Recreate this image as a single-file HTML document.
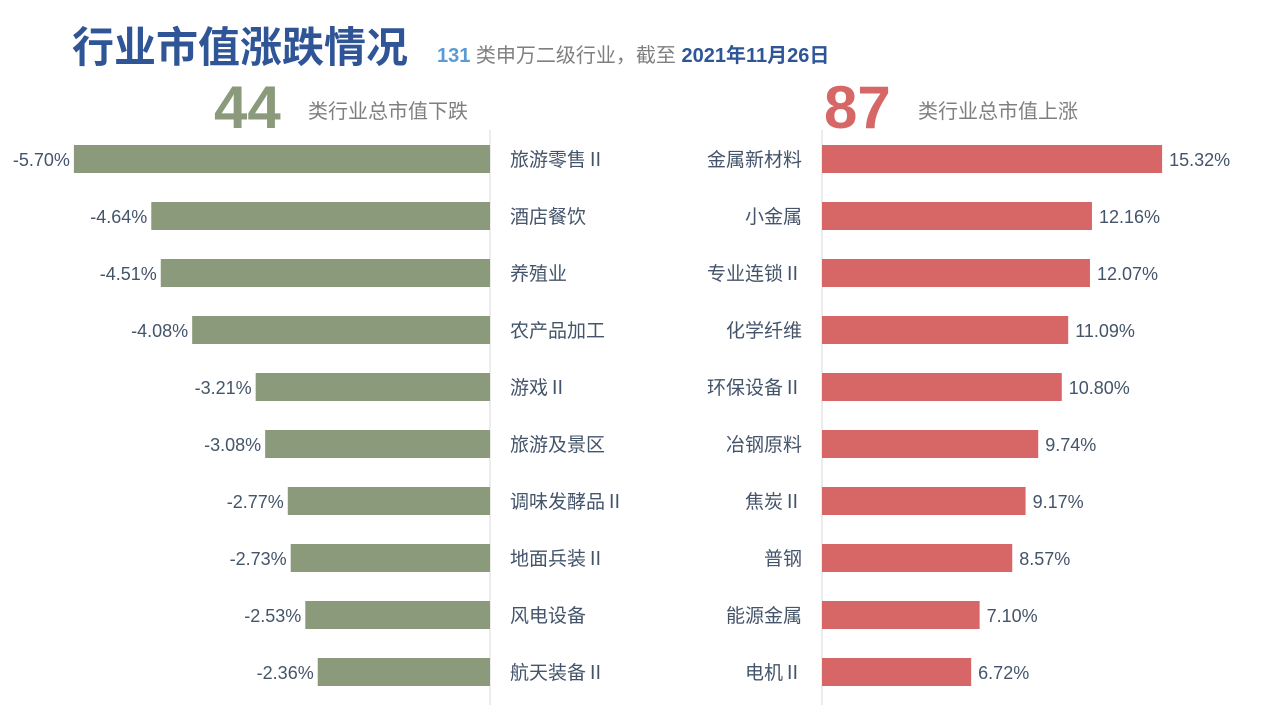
<!DOCTYPE html>
<html><head><meta charset="utf-8"><style>
body{margin:0;width:1280px;height:720px;background:#fff;overflow:hidden;font-family:"Liberation Sans","Noto Sans CJK SC",sans-serif;}
#c{position:absolute;left:0;top:0}
</style></head><body>
<svg id="c" width="1280" height="720">
<text x="72" y="62" font-size="42" font-weight="bold" fill="#2F5597" font-family="Noto Sans CJK SC,sans-serif">行业市值涨跌情况</text>
<text x="437" y="62" font-size="20" fill="#7F7F7F" font-family="Liberation Sans,Noto Sans CJK SC,sans-serif"><tspan fill="#5B9BD5" font-weight="bold">131</tspan> 类申万二级行业，截至 <tspan fill="#2F5597" font-weight="bold">2021年11月26日</tspan></text>
<text x="214" y="128" font-size="60" font-weight="bold" fill="#8A9A7B">44</text>
<text x="308" y="118" font-size="20" fill="#7F7F7F" font-family="Noto Sans CJK SC,sans-serif">类行业总市值下跌</text>
<text x="824" y="128" font-size="60" font-weight="bold" fill="#D76666">87</text>
<text x="918" y="118" font-size="20" fill="#7F7F7F" font-family="Noto Sans CJK SC,sans-serif">类行业总市值上涨</text>
<line x1="490" y1="130" x2="490" y2="705" stroke="#D9D9D9"/>
<line x1="822" y1="130" x2="822" y2="705" stroke="#D9D9D9"/>
<g id="bars"></g>
</svg>
<script>
const downCats=["旅游零售Ⅱ","酒店餐饮","养殖业","农产品加工","游戏Ⅱ","旅游及景区","调味发酵品Ⅱ","地面兵装Ⅱ","风电设备","航天装备Ⅱ"];
const downVals=[-5.70,-4.64,-4.51,-4.08,-3.21,-3.08,-2.77,-2.73,-2.53,-2.36];
const upCats=["金属新材料","小金属","专业连锁Ⅱ","化学纤维","环保设备Ⅱ","冶钢原料","焦炭Ⅱ","普钢","能源金属","电机Ⅱ"];
const upVals=[15.32,12.16,12.07,11.09,10.80,9.74,9.17,8.57,7.10,6.72];
const NS="http://www.w3.org/2000/svg";
const g=document.getElementById('bars');
const xL=v=>490+v*73;
const xR=v=>822+v*22.2;
const yC=i=>159+i*57;
function mk(t,a){const e=document.createElementNS(NS,t);for(const k in a)e.setAttribute(k,a[k]);g.appendChild(e);return e;}
downVals.forEach((v,i)=>{
  const r=mk('rect',{x:xL(v),y:yC(i)-14,width:490-xL(v),height:28,fill:'#8A9A7B'});
  
  
  const t=mk('text',{x:xL(v)-4,y:yC(i)+7,'font-size':18,fill:'#44546A','text-anchor':'end'});
  t.textContent=v.toFixed(2)+'%';
  
  
  const c=mk('text',{x:510,y:yC(i)+7,'font-size':19,fill:'#44546A','font-family':'Noto Sans CJK SC,sans-serif'});
  c.textContent=downCats[i];
  
  
});
upVals.forEach((v,i)=>{
  const r=mk('rect',{x:822,y:yC(i)-14,width:xR(v)-822,height:28,fill:'#D76666'});
  
  
  const t=mk('text',{x:xR(v)+7,y:yC(i)+7,'font-size':18,fill:'#44546A'});
  t.textContent=v.toFixed(2)+'%';
  
  
  const c=mk('text',{x:802,y:yC(i)+7,'font-size':19,fill:'#44546A','text-anchor':'end','font-family':'Noto Sans CJK SC,sans-serif'});
  c.textContent=upCats[i];
  
  
});
</script>
</body></html>
